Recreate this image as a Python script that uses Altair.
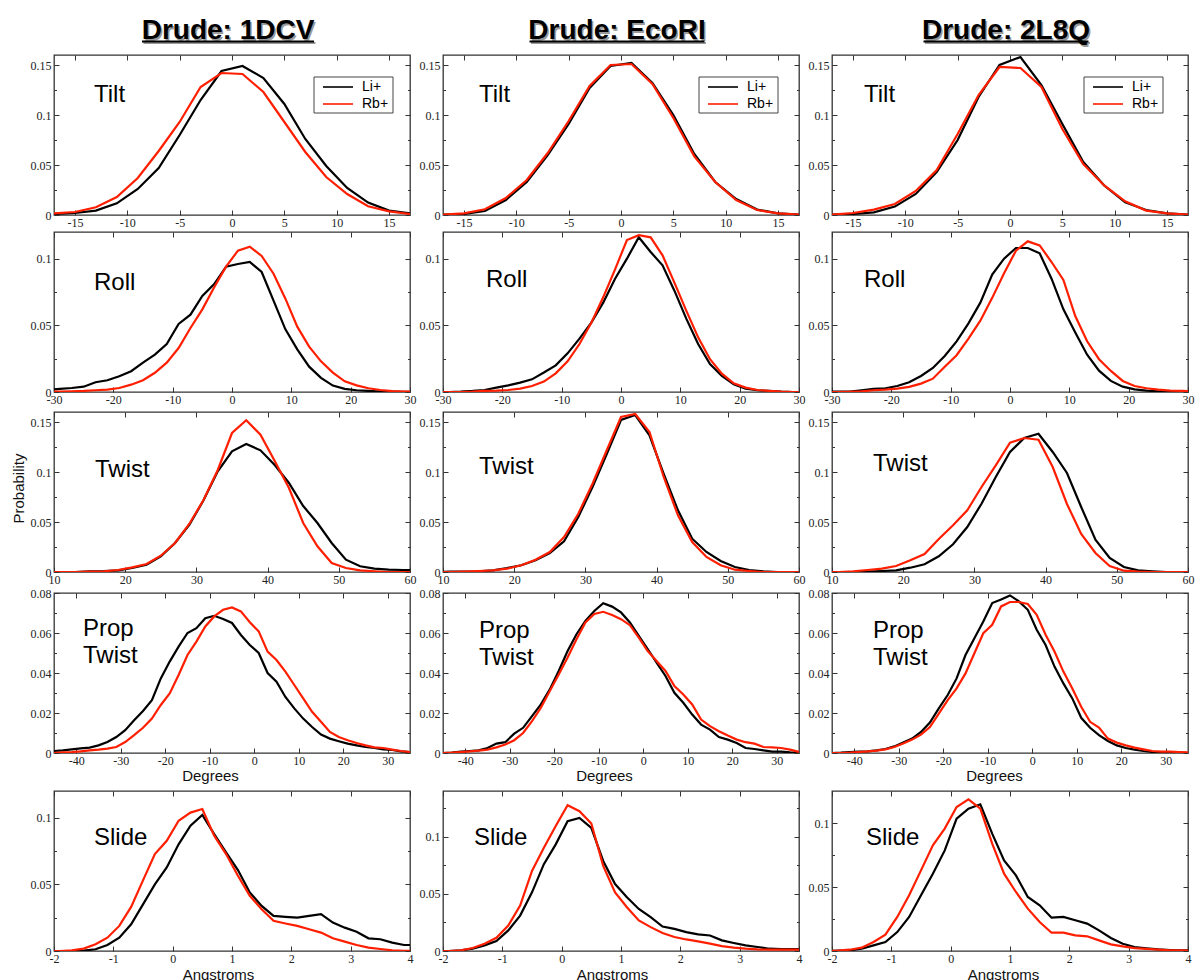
import altair as alt
import pandas as pd

# ---------------- data ----------------
SERIES = ["Li+", "Rb+"]
COLORS = ["#000000", "#ff1f00"]
SYSTEMS = ["1DCV", "EcoRI", "2L8Q"]
COLUMN_TITLES = ["Drude: 1DCV", "Drude: EcoRI", "Drude: 2L8Q"]
PARAMS = ["Tilt", "Roll", "Twist", "Prop\nTwist", "Slide"]

tilt_x = [-17, -15, -13, -11, -9, -7, -5, -3, -1, 1, 3, 5, 7, 9, 11, 13, 15, 17]
tilt_li_1dcv = [0.001, 0.002, 0.0044, 0.0117, 0.026, 0.047, 0.080, 0.115, 0.144, 0.149, 0.137, 0.111, 0.076, 0.049, 0.027, 0.0124, 0.0044, 0.0017]
tilt_rb_1dcv = [0.0017, 0.003, 0.0077, 0.018, 0.037, 0.064, 0.093, 0.128, 0.142, 0.141, 0.123, 0.093, 0.063, 0.038, 0.021, 0.0087, 0.0037, 0.001]
tilt_li_ecori = [0.0005, 0.001, 0.004, 0.015, 0.033, 0.060, 0.091, 0.127, 0.149, 0.152, 0.132, 0.100, 0.061, 0.033, 0.016, 0.0054, 0.0017, 0.0003]
tilt_rb_ecori = [0.0003, 0.0017, 0.0057, 0.017, 0.035, 0.062, 0.094, 0.129, 0.150, 0.151, 0.131, 0.097, 0.0586, 0.033, 0.015, 0.005, 0.0017, 0.0003]
tilt_li_2l8q = [0.0005, 0.001, 0.0027, 0.0084, 0.021, 0.043, 0.075, 0.118, 0.150, 0.158, 0.130, 0.091, 0.053, 0.0295, 0.0127, 0.005, 0.0017, 0.0003]
tilt_rb_2l8q = [0.0003, 0.002, 0.0054, 0.011, 0.024, 0.045, 0.081, 0.120, 0.148, 0.147, 0.128, 0.086, 0.051, 0.0295, 0.0137, 0.0044, 0.0017, 0.0003]

roll_x = [-31, -29, -27, -25, -23, -21, -19, -17, -15, -13, -11, -9, -7, -5, -3, -1,
          1, 3, 5, 7, 9, 11, 13, 15, 17, 19, 21, 23, 25, 27, 29, 31]
roll_li_1dcv = [0.0015, 0.0023, 0.003, 0.004, 0.0073, 0.0088, 0.0118, 0.0156, 0.022, 0.028, 0.036, 0.051, 0.058, 0.072, 0.081, 0.094,
                0.096, 0.0975, 0.090, 0.0685, 0.047, 0.032, 0.019, 0.0106, 0.0048, 0.0023, 0.0013, 0.0008, 0.0003, 0.0003, 0.0001, 0.0001]
roll_rb_1dcv = [0.0002, 0.0003, 0.0005, 0.0008, 0.0013, 0.0018, 0.003, 0.0055, 0.0088, 0.0144, 0.022, 0.033, 0.048, 0.062, 0.0786, 0.094,
                0.106, 0.109, 0.102, 0.0887, 0.070, 0.049, 0.034, 0.023, 0.0145, 0.008, 0.005, 0.0028, 0.0015, 0.0006, 0.0003, 0.0002]
roll_li_ecori = [0.0, 0.0, 0.0003, 0.0008, 0.0015, 0.0033, 0.005, 0.007, 0.0095, 0.0146, 0.020, 0.029, 0.040, 0.052, 0.067, 0.085,
                 0.100, 0.116, 0.105, 0.095, 0.076, 0.055, 0.036, 0.021, 0.012, 0.0058, 0.0025, 0.0013, 0.0008, 0.0003, 0.0, 0.0]
roll_rb_ecori = [0.0, 0.0, 0.0, 0.0003, 0.0008, 0.001, 0.0015, 0.0025, 0.0045, 0.0078, 0.014, 0.023, 0.036, 0.052, 0.071, 0.092,
                 0.114, 0.1176, 0.116, 0.1025, 0.082, 0.061, 0.041, 0.0246, 0.0138, 0.0065, 0.0033, 0.0015, 0.0008, 0.0003, 0.0, 0.0]
roll_li_2l8q = [0.0002, 0.0003, 0.0003, 0.0013, 0.0023, 0.0028, 0.0045, 0.0073, 0.012, 0.018, 0.027, 0.038, 0.0515, 0.067, 0.088, 0.100,
                0.108, 0.108, 0.104, 0.085, 0.062, 0.0447, 0.028, 0.016, 0.0083, 0.004, 0.002, 0.001, 0.0005, 0.0003, 0.0, 0.0]
roll_rb_2l8q = [0.0, 0.0, 0.0002, 0.0005, 0.0013, 0.0018, 0.0025, 0.0038, 0.0063, 0.010, 0.019, 0.0276, 0.040, 0.0535, 0.0706, 0.089,
                0.106, 0.113, 0.110, 0.0975, 0.084, 0.057, 0.038, 0.0246, 0.0158, 0.0083, 0.0045, 0.0028, 0.0018, 0.001, 0.0008, 0.0006]

twist_x = [9, 11, 13, 15, 17, 19, 21, 23, 25, 27, 29, 31, 33, 35, 37, 39, 41, 43, 45, 47, 49, 51, 53, 55, 57, 59, 61]
twist_li_1dcv = [0.0, 0.0, 0.0, 0.0007, 0.001, 0.0017, 0.004, 0.0073, 0.0157, 0.029, 0.047, 0.0717, 0.1007, 0.1207, 0.128, 0.1217,
                 0.107, 0.089, 0.066, 0.049, 0.029, 0.0123, 0.0057, 0.0033, 0.0023, 0.002, 0.0018]
twist_rb_1dcv = [0.0, 0.0, 0.0, 0.0003, 0.0007, 0.002, 0.0047, 0.008, 0.0163, 0.029, 0.048, 0.072, 0.102, 0.139, 0.1517, 0.1373,
                 0.111, 0.084, 0.049, 0.0257, 0.009, 0.004, 0.0017, 0.0007, 0.0, 0.0, 0.0]
twist_li_ecori = [0.0, 0.0003, 0.0003, 0.0007, 0.0017, 0.004, 0.0067, 0.0117, 0.019, 0.0307, 0.055, 0.085, 0.118, 0.152, 0.157, 0.1367,
                  0.098, 0.0617, 0.0333, 0.020, 0.011, 0.005, 0.002, 0.0007, 0.0, 0.0, 0.0]
twist_rb_ecori = [0.0, 0.0, 0.0005, 0.001, 0.0017, 0.0033, 0.0067, 0.0123, 0.020, 0.035, 0.0583, 0.0883, 0.1217, 0.155, 0.158, 0.140,
                  0.095, 0.0567, 0.030, 0.015, 0.0067, 0.0023, 0.001, 0.0, 0.0, 0.0, 0.0]
twist_li_2l8q = [0.0, 0.0, 0.0, 0.0003, 0.001, 0.0017, 0.0043, 0.0077, 0.0157, 0.0277, 0.045, 0.0683, 0.095, 0.12, 0.134, 0.1383,
                 0.12, 0.099, 0.065, 0.0323, 0.014, 0.005, 0.0017, 0.0007, 0.0, 0.0, 0.0]
twist_rb_2l8q = [0.0, 0.0, 0.0007, 0.002, 0.0033, 0.006, 0.0117, 0.018, 0.033, 0.0467, 0.0617, 0.085, 0.1067, 0.1293, 0.134, 0.1323,
                 0.105, 0.068, 0.038, 0.019, 0.006, 0.0013, 0.0003, 0.0, 0.0, 0.0, 0.0]

prop_x = [-45, -43, -41, -39, -37, -35, -33, -31, -29, -27, -25, -23, -21, -19, -17, -15, -13, -11, -9, -7, -5,
          -3, -1, 1, 3, 5, 7, 9, 11, 13, 15, 17, 19, 21, 23, 25, 27, 29, 31, 33, 35]
prop_li_1dcv = [0.001, 0.0013, 0.0018, 0.0023, 0.0027, 0.0038, 0.0055, 0.008, 0.0114, 0.0164, 0.021, 0.0264, 0.0373, 0.0457,
                0.0532, 0.060, 0.0624, 0.0674, 0.0686, 0.067, 0.065, 0.059, 0.054, 0.050, 0.040, 0.0356, 0.028, 0.0223,
                0.0172, 0.013, 0.0092, 0.0072, 0.0059, 0.0047, 0.0038, 0.003, 0.0025, 0.0018, 0.0015, 0.0008, 0.0005]
prop_rb_1dcv = [0.0, 0.0003, 0.0005, 0.0008, 0.0013, 0.0017, 0.0022, 0.003, 0.0055, 0.0089, 0.0126, 0.0172, 0.024, 0.0298,
                0.039, 0.049, 0.0557, 0.0633, 0.0683, 0.0716, 0.0728, 0.0708, 0.0654, 0.0608, 0.0507, 0.0465, 0.0407, 0.034,
                0.0273, 0.0206, 0.0156, 0.0105, 0.008, 0.0064, 0.005, 0.0038, 0.0028, 0.0025, 0.0017, 0.001, 0.0005]
prop_li_ecori = [0.0, 0.0002, 0.0007, 0.001, 0.0013, 0.0025, 0.0047, 0.0054, 0.0097, 0.0126, 0.0184, 0.0243, 0.0318, 0.041,
                 0.051, 0.0594, 0.066, 0.071, 0.0749, 0.0732, 0.0703, 0.0653, 0.0586, 0.052, 0.0452, 0.0385, 0.0301, 0.0251,
                 0.0192, 0.0142, 0.0117, 0.008, 0.0067, 0.005, 0.0025, 0.002, 0.0013, 0.0007, 0.0007, 0.0003, 0.0002]
prop_rb_ecori = [0.0, 0.0002, 0.0005, 0.0008, 0.0012, 0.0017, 0.0028, 0.0042, 0.0064, 0.010, 0.0159, 0.0226, 0.031, 0.0393,
                 0.0477, 0.0569, 0.0653, 0.0695, 0.0706, 0.069, 0.0669, 0.0639, 0.0577, 0.051, 0.046, 0.041, 0.0335, 0.0293,
                 0.0243, 0.0167, 0.0134, 0.0109, 0.0087, 0.0067, 0.0054, 0.0047, 0.003, 0.0028, 0.0025, 0.0017, 0.0005]
prop_li_2l8q = [0.0, 0.0002, 0.0005, 0.0007, 0.0008, 0.0013, 0.002, 0.0033, 0.0052, 0.0072, 0.0105, 0.0152, 0.0223, 0.029,
                0.0373, 0.049, 0.0574, 0.0658, 0.075, 0.0767, 0.0788, 0.0758, 0.0716, 0.0616, 0.054, 0.0432, 0.0348, 0.0273,
                0.0176, 0.0126, 0.0089, 0.006, 0.0038, 0.0025, 0.0017, 0.001, 0.0005, 0.0003, 0.0002, 0.0002, 0.0]
prop_rb_2l8q = [0.0, 0.0, 0.0002, 0.0005, 0.0008, 0.0012, 0.0018, 0.003, 0.0047, 0.0067, 0.0092, 0.013, 0.0197, 0.0264,
                0.0323, 0.0398, 0.0499, 0.0599, 0.0641, 0.0733, 0.0755, 0.0755, 0.0745, 0.0691, 0.0591, 0.0507, 0.0407, 0.0323,
                0.0231, 0.0156, 0.0127, 0.0072, 0.0052, 0.0038, 0.0027, 0.0018, 0.001, 0.0007, 0.0007, 0.0005, 0.0003]

slide_x = [-2.1, -1.9, -1.7, -1.5, -1.3, -1.1, -0.9, -0.7, -0.5, -0.3, -0.1, 0.1, 0.3, 0.5, 0.7, 0.9,
           1.1, 1.3, 1.5, 1.7, 1.9, 2.1, 2.3, 2.5, 2.7, 2.9, 3.1, 3.3, 3.5, 3.7, 3.9, 4.1]
slide_li_1dcv = [0.0, 0.0, 0.0, 0.0003, 0.0013, 0.0045, 0.010, 0.020, 0.035, 0.050, 0.0627, 0.080, 0.094, 0.102, 0.0877, 0.074,
                 0.0607, 0.0439, 0.0338, 0.0263, 0.0256, 0.025, 0.0263, 0.0276, 0.0213, 0.0175, 0.0145, 0.0095, 0.0088, 0.0063, 0.0045, 0.0045]
slide_rb_1dcv = [0.0, 0.0, 0.0005, 0.0018, 0.005, 0.010, 0.0188, 0.0331, 0.053, 0.0727, 0.0827, 0.0977, 0.1038, 0.1065, 0.0865, 0.0727,
                 0.0564, 0.0414, 0.0313, 0.0226, 0.0206, 0.0188, 0.0163, 0.0138, 0.0095, 0.007, 0.0045, 0.0025, 0.0015, 0.0005, 0.0002, 0.0]
slide_li_ecori = [0.0, 0.0, 0.0006, 0.002, 0.0049, 0.0087, 0.018, 0.031, 0.0513, 0.076, 0.0933, 0.1136, 0.1165, 0.1078, 0.0788, 0.0586,
                  0.047, 0.0368, 0.0296, 0.0214, 0.0194, 0.0165, 0.0145, 0.0136, 0.0093, 0.007, 0.0049, 0.0035, 0.002, 0.0017, 0.0017, 0.0017]
slide_rb_ecori = [0.0, 0.0, 0.0006, 0.0026, 0.0064, 0.0116, 0.0223, 0.0397, 0.0701, 0.0904, 0.1093, 0.1275, 0.1223, 0.1116, 0.0745, 0.0513,
                  0.0383, 0.0267, 0.0209, 0.0157, 0.0122, 0.0101, 0.0084, 0.0064, 0.0043, 0.0029, 0.002, 0.0014, 0.0012, 0.0012, 0.0012, 0.0012]
slide_li_2l8q = [0.0, 0.0003, 0.0005, 0.0018, 0.0044, 0.007, 0.0148, 0.0266, 0.0435, 0.0604, 0.0786, 0.1034, 0.1112, 0.1146, 0.0917, 0.0708,
                 0.0591, 0.0422, 0.0357, 0.026, 0.0266, 0.024, 0.0214, 0.0161, 0.0102, 0.0057, 0.0031, 0.0021, 0.0013, 0.0008, 0.0005, 0.0005]
slide_rb_2l8q = [0.0, 0.0003, 0.001, 0.0026, 0.007, 0.0128, 0.0266, 0.0435, 0.063, 0.0826, 0.0956, 0.1125, 0.1185, 0.1112, 0.0839, 0.0604,
                 0.0461, 0.0331, 0.0227, 0.0143, 0.0143, 0.0122, 0.0115, 0.0083, 0.0052, 0.0036, 0.0023, 0.0016, 0.001, 0.0005, 0.0005, 0.0003]

X_GRID = [tilt_x, roll_x, twist_x, prop_x, slide_x]
SERIES_DATA = [
    [(tilt_li_1dcv, tilt_rb_1dcv), (tilt_li_ecori, tilt_rb_ecori), (tilt_li_2l8q, tilt_rb_2l8q)],
    [(roll_li_1dcv, roll_rb_1dcv), (roll_li_ecori, roll_rb_ecori), (roll_li_2l8q, roll_rb_2l8q)],
    [(twist_li_1dcv, twist_rb_1dcv), (twist_li_ecori, twist_rb_ecori), (twist_li_2l8q, twist_rb_2l8q)],
    [(prop_li_1dcv, prop_rb_1dcv), (prop_li_ecori, prop_rb_ecori), (prop_li_2l8q, prop_rb_2l8q)],
    [(slide_li_1dcv, slide_rb_1dcv), (slide_li_ecori, slide_rb_ecori), (slide_li_2l8q, slide_rb_2l8q)],
]

X_DOMAIN = [[-17, 17], [-30, 30], [10, 60], [-45, 35], [-2, 4]]
X_TICKS = [[-15, -10, -5, 0, 5, 10, 15], [-30, -20, -10, 0, 10, 20, 30], [10, 20, 30, 40, 50, 60],
           [-40, -30, -20, -10, 0, 10, 20, 30], [-2, -1, 0, 1, 2, 3, 4]]
Y_DOMAIN = [[[0, 0.16]] * 3, [[0, 0.12]] * 3, [[0, 0.16]] * 3, [[0, 0.08]] * 3,
            [[0, 0.12], [0, 0.14], [0, 0.125]]]
Y_TICKS = [[0, 0.05, 0.1, 0.15], [0, 0.05, 0.1], [0, 0.05, 0.1, 0.15], [0, 0.02, 0.04, 0.06, 0.08], [0, 0.05, 0.1]]
Y_MINOR = [[[0.025, 0.075, 0.125]] * 3, [[0.025, 0.075]] * 3, [[0.025, 0.075, 0.125]] * 3,
           [[0.01, 0.03, 0.05, 0.07]] * 3, [[0.025, 0.075], [0.025, 0.075, 0.125], [0.025, 0.075]]]
X_TITLES = [None, None, None, "Degrees", "Angstroms"]
Y_TITLE = "Probability"

# ---------------- layout (pixels) ----------------
W, H = 356, 160
LEFT_MARGIN, TOP_MARGIN = 54, 55
ROW_BOTTOM_EXTENT = [14, 17, 13, 35, 30]   # invisible extents that fix the row gaps
LABEL_POS = [[(40, 47), (36, 47), (32, 47)],
             [(40, 58), (43, 55), (32, 55)],
             [(41, 65), (36, 62), (41, 59)],
             [(29, 43), (36, 45), (41, 45)],
             [(40, 54), (31, 54), (34, 54)]]
LEGEND_X = [260, 256, 252]
TITLE_UNDERLINE = [172, 175, 165]
XTITLE_X = {3: [156, 161, 162], 4: [164, 169, 171]}
XTITLE_Y = {3: 27, 4: 28}
FRAME = "#333333"


def label_axis(orient, values, title=None, extra=None):
    kw = dict(orient=orient, values=values, ticks=False, domain=False, grid=False,
              labelExpr="datum.value + ''", labelFlush=False, labelOverlap=False,
              labelPadding=2 if orient == "bottom" else 3, title=title)
    if extra:
        kw.update(extra)
    return alt.Axis(**kw)


def tick_axis(orient, values, size):
    off = -H if orient in ("top", "bottom") else -W
    return alt.Axis(orient=orient, values=values, offset=off, labels=False, domain=False,
                    grid=False, ticks=True, tickSize=size, tickColor=FRAME, tickWidth=1, title=None)


def one(value):
    return pd.DataFrame({"t": [value]})


def make_panel(r, c):
    xs = X_GRID[r]
    li, rb = SERIES_DATA[r][c]
    df = pd.DataFrame({"x": list(xs) + list(xs), "y": list(li) + list(rb),
                       "series": [SERIES[0]] * len(li) + [SERIES[1]] * len(rb)})
    xscale = alt.Scale(domain=X_DOMAIN[r], nice=False, zero=False)
    yscale = alt.Scale(domain=Y_DOMAIN[r][c], nice=False, zero=False)
    base = alt.Chart(df)

    xextra = None
    if X_TITLES[r]:
        xextra = dict(titleX=XTITLE_X[r][c], titleY=XTITLE_Y[r], titleBaseline="alphabetic",
                      titleAlign="center")
    yextra = None
    ytitle = None
    if r == 2 and c == 0:
        ytitle = Y_TITLE
        yextra = dict(titleX=-31, titleY=76, titleAngle=270, titleBaseline="alphabetic",
                      titleAlign="center")

    lines = base.mark_line(strokeWidth=2.2, clip=True).encode(
        x=alt.X("x:Q", scale=xscale, axis=label_axis("bottom", X_TICKS[r], X_TITLES[r], xextra)),
        y=alt.Y("y:Q", scale=yscale, axis=label_axis("left", Y_TICKS[r], ytitle, yextra)),
        color=alt.Color("series:N", scale=alt.Scale(domain=SERIES, range=COLORS), legend=None),
    )

    def ghost(xaxis, yaxis):
        return base.mark_point(opacity=0, clip=True).encode(
            x=alt.X("x:Q", scale=xscale, axis=xaxis),
            y=alt.Y("y:Q", scale=yscale, axis=yaxis),
        )

    layers = [
        lines,
        ghost(tick_axis("top", X_TICKS[r], 5), tick_axis("right", Y_TICKS[r], 5)),
        ghost(tick_axis("bottom", X_TICKS[r], 5), tick_axis("left", Y_TICKS[r], 5)),
        ghost(None, tick_axis("right", Y_MINOR[r][c], 2.5)),
        ghost(None, tick_axis("left", Y_MINOR[r][c], 2.5)),
    ]

    lx, ly = LABEL_POS[r][c]
    layers.append(
        alt.Chart(one(PARAMS[r])).mark_text(
            align="left", baseline="alphabetic", font="Liberation Sans", fontSize=24,
            lineBreak="\n", lineHeight=27, color="black"
        ).encode(text="t:N", x=alt.value(lx), y=alt.value(ly))
    )

    if c == 0:
        # invisible anchor fixing this row's bottom extent (gap to the next row)
        layers.append(alt.Chart(one("anchor")).mark_rect(opacity=0).encode(
            x=alt.value(0), x2=alt.value(1),
            y=alt.value(0), y2=alt.value(H + ROW_BOTTOM_EXTENT[r])))

    if r == 0:
        cx = 174
        w = TITLE_UNDERLINE[c]
        tdf = one(COLUMN_TITLES[c])
        layers.append(alt.Chart(tdf).mark_text(
            align="center", baseline="alphabetic", font="Liberation Sans", fontSize=28,
            fontWeight="bold", color="#9a9a9a").encode(text="t:N", x=alt.value(cx + 1.5), y=alt.value(-14.5)))
        layers.append(alt.Chart(tdf).mark_rule(color="#9a9a9a", strokeWidth=2).encode(
            x=alt.value(cx - w / 2 + 1.5), x2=alt.value(cx + w / 2 + 1.5), y=alt.value(-12)))
        layers.append(alt.Chart(tdf).mark_text(
            align="center", baseline="alphabetic", font="Liberation Sans", fontSize=28,
            fontWeight="bold", color="black").encode(text="t:N", x=alt.value(cx), y=alt.value(-16)))
        layers.append(alt.Chart(tdf).mark_rule(color="black", strokeWidth=2).encode(
            x=alt.value(cx - w / 2), x2=alt.value(cx + w / 2), y=alt.value(-13.5)))

        # legend box
        bx = LEGEND_X[c]
        layers.append(alt.Chart(one("box")).mark_rect(fill="white", stroke="#444", strokeWidth=1).encode(
            x=alt.value(bx), x2=alt.value(bx + 79), y=alt.value(22), y2=alt.value(58)))
        for i, name in enumerate(SERIES):
            yy = 32 + 17 * i
            layers.append(alt.Chart(one(name)).mark_rule(color=COLORS[i], strokeWidth=1.6).encode(
                x=alt.value(bx + 9), x2=alt.value(bx + 39), y=alt.value(yy)))
            layers.append(alt.Chart(one(name)).mark_text(
                align="left", baseline="middle", font="Liberation Sans", fontSize=14, color="black"
            ).encode(text="t:N", x=alt.value(bx + 48), y=alt.value(yy)))

    return alt.layer(*layers).properties(width=W, height=H)


rows = []
for r in range(5):
    rows.append(alt.hconcat(*[make_panel(r, c) for c in range(3)], spacing=33, bounds="flush"))

chart = alt.vconcat(*rows, spacing=0).properties(
    autosize=alt.AutoSizeParams(type="none"),
    padding={"left": LEFT_MARGIN, "top": TOP_MARGIN, "right": 1196 - LEFT_MARGIN, "bottom": 980 - TOP_MARGIN},
).configure_view(
    stroke=FRAME, strokeWidth=1.3, fill="white"
).configure_axis(
    labelFont="Liberation Serif", labelFontSize=12, labelColor="#222222",
    titleFont="Liberation Sans", titleFontSize=15, titleFontWeight="normal", titleColor="#111111",
)

chart.save("out.html", embed_options={"renderer": "svg", "actions": False})
